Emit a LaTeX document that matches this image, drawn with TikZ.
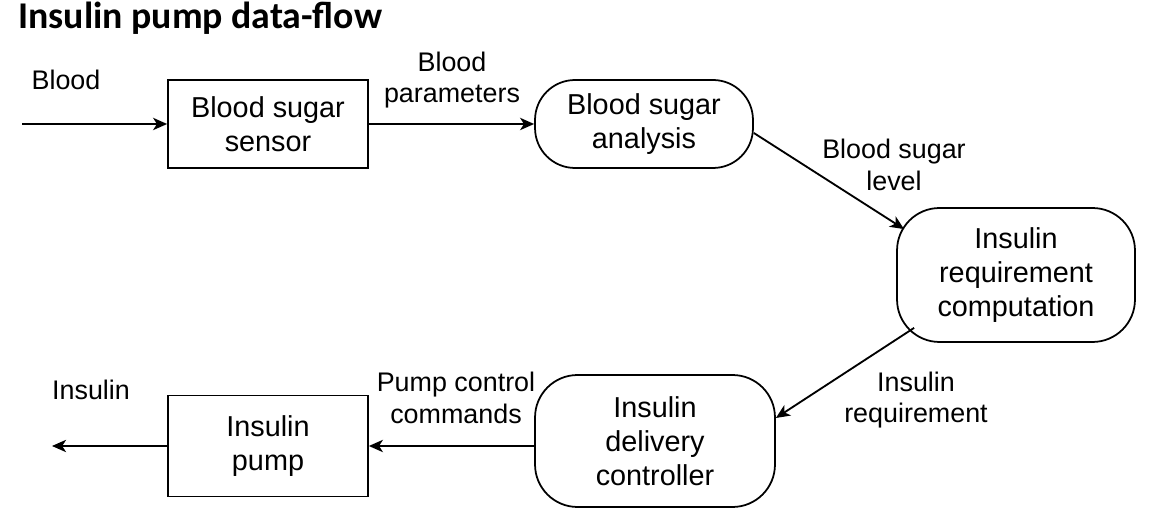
\documentclass[tikz,border=0pt]{standalone}
\usepackage{fontspec}
\setmainfont{Liberation Sans}
\newfontfamily\titlefont{Carlito}
\usetikzlibrary{arrows.meta, positioning, calc}

\begin{document}
\begin{tikzpicture}[
    x=0.02cm, y=-0.02cm,
    nodebox/.style={draw, line width=1pt, align=center, inner sep=0pt,
                 font=\fontsize{16.4}{19.3}\selectfont},
    ext/.style={nodebox, minimum width=4cm},
    proc/.style={nodebox, rounded corners=0.85cm},
    lbl/.style={align=center, inner sep=0pt, font=\fontsize{15.3}{18}\selectfont},
    arrow/.style={-{Stealth[length=8pt, width=7pt, inset=2.2pt]}, line width=1.05pt},
  ]
    \useasboundingbox (0,0) rectangle (1156,526);

    % Title
    \node[anchor=base west, inner sep=0pt, font=\titlefont\bfseries\fontsize{21.5}{25}\selectfont]
      (title) at (18,29) {Insulin pump data-flow};

    % Blood sugar sensor
    \node[ext, minimum height=1.76cm] (sensor) at (268,124) {Blood sugar\\sensor};

    % Blood sugar analysis
    \node[proc, minimum width=4.36cm, minimum height=1.76cm, rounded corners=0.8cm]
      (ana) at (644,124) {Blood sugar\\analysis};

    % Insulin requirement computation
    \node[proc, minimum width=4.76cm, minimum height=2.68cm]
      (comp) at (1016,275) {Insulin\\requirement\\computation};

    % Insulin delivery controller
    \node[proc, minimum width=4.8cm, minimum height=2.64cm]
      (ctrl) at (655,441) {Insulin\\delivery\\controller};

    % Insulin pump
    \node[ext, minimum height=2.02cm] (pump) at (268,446) {Insulin\\pump};

    % Free ends
    \coordinate (bloodin) at (22,124);
    \coordinate (insout) at (52,446);

    % Arrows
    \draw[arrow] (bloodin) -- (sensor);
    \draw[arrow] (sensor) -- (ana);
    \draw[arrow] ([yshift=-0.18cm]ana.east) -- ([xshift=0.16cm, yshift=-0.44cm]comp.north west);
    \draw[arrow] ([xshift=0.36cm, yshift=0.3cm]comp.south west) -- ([yshift=0.46cm]ctrl.east);
    \draw[arrow] (ctrl.west |- pump.east) -- (pump.east);
    \draw[arrow] (pump) -- (insout);

    % Flow labels
    \node[lbl] (lblblood) at (66,80) {Blood};
    \node[lbl] (lblparam) at (452,80) {Blood\\parameters};
    \node[lbl] (lbllevel) at (894,165) {Blood sugar\\level};
    \node[lbl] (lblreq) at (916,400) {Insulin\\requirement};
    \node[lbl] (lblcmd) at (456,398) {Pump control\\commands};
    \node[lbl] (lblins) at (91,390) {Insulin};
  \end{tikzpicture}
\end{document}
